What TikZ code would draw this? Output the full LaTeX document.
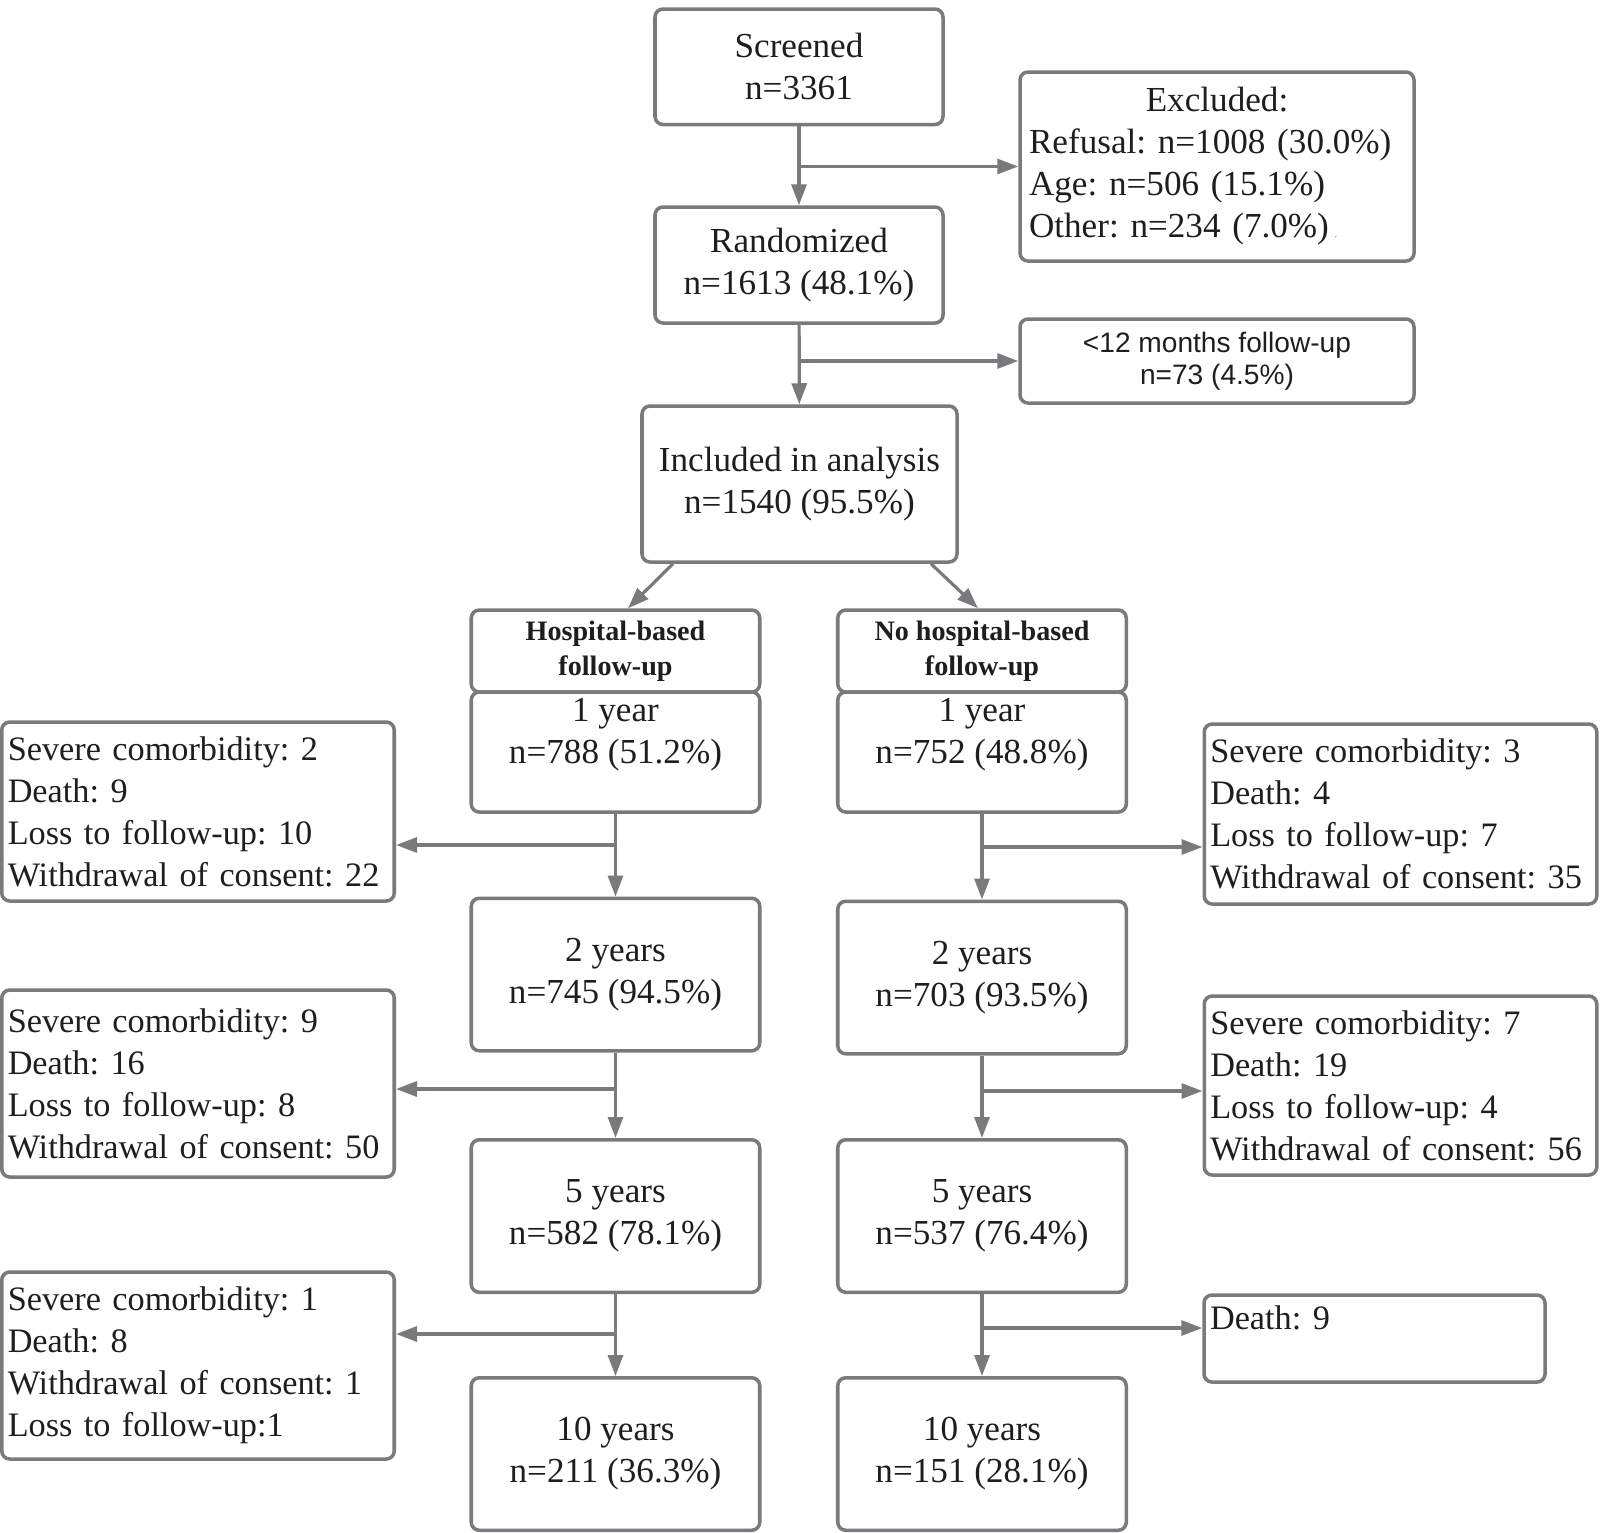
\documentclass[tikz,border=0pt]{standalone}
\usepackage{fontspec}
\setmainfont{Liberation Serif}
\newfontfamily\sansfont{Liberation Sans}
\usetikzlibrary{arrows.meta,positioning,calc}
\definecolor{linegray}{RGB}{122,122,126}
\definecolor{textdark}{RGB}{30,30,30}
\frenchspacing
\tikzset{
  box/.style={draw=linegray, line width=2pt, rounded corners=0.16cm, align=center,
    inner sep=0pt, text=textdark, font=\fontsize{20}{23.9}\selectfont\frenchspacing},
  side box/.style={box, align=left, inner xsep=0.12cm, text width=7.61cm,
    minimum width=7.85cm, font=\fontsize{19.5}{23.9}\selectfont\frenchspacing},
  head box/.style={box, font=\fontsize{16}{19.9}\selectfont\bfseries,
    minimum width=5.77cm, minimum height=1.64cm},
  year box/.style={box, minimum width=5.77cm, minimum height=3.05cm},
  arr/.style={draw=linegray, line width=1.8pt, -{Triangle[length=0.42cm,width=0.3cm]}},
}
\begin{document}
\begin{tikzpicture}
\useasboundingbox (0,0) rectangle (32,-30.64);

% top part
\node[box, minimum width=5.76cm, minimum height=2.31cm] (screened) at (15.98,-1.335) {Screened\\n=3361};
\node[box, align=left, inner xsep=0.18cm, text width=7.52cm, minimum height=3.78cm] (excluded) at (24.34,-3.33)
  {\makebox[7.52cm]{Excluded:}\\Refusal: n=1008 (30.0\%)\\Age: n=506 (15.1\%)\\Other: n=234 (7.0\%)\,{\tiny .}};
\node[box, minimum width=5.76cm, minimum height=2.32cm] (randomized) at (15.98,-5.30) {Randomized\\n=1613 (48.1\%)};
\node[box, font=\sansfont\fontsize{16}{18.2}\selectfont, minimum width=7.88cm, minimum height=1.68cm] (lessyr) at (24.34,-7.22)
  {<12 months follow-up\\n=73 (4.5\%)};
\node[box, minimum width=6.30cm, minimum height=3.12cm] (included) at (15.99,-9.68) {Included in analysis\\n=1540 (95.5\%)};

% hospital-based column
\node[head box] (hosp) at (12.31,-13.02) {Hospital-based\\follow-up};
\node[box, minimum width=5.77cm, minimum height=2.40cm, below=-2pt of hosp] (hosp1) {1 year\\n=788 (51.2\%)\\\mbox{}};
\node[year box] (hosp2) at (12.31,-19.49) {2 years\\n=745 (94.5\%)};
\node[year box] (hosp5) at (12.31,-24.32) {5 years\\n=582 (78.1\%)};
\node[year box] (hosp10) at (12.31,-29.08) {10 years\\n=211 (36.3\%)};

% no hospital-based column
\node[head box] (nohosp) at (19.64,-13.02) {No hospital-based\\follow-up};
\node[box, minimum width=5.77cm, minimum height=2.40cm, below=-2pt of nohosp] (nohosp1) {1 year\\n=752 (48.8\%)\\\mbox{}};
\node[year box] (nohosp2) at (19.64,-19.55) {2 years\\n=703 (93.5\%)};
\node[year box] (nohosp5) at (19.64,-24.32) {5 years\\n=537 (76.4\%)};
\node[year box] (nohosp10) at (19.64,-29.08) {10 years\\n=151 (28.1\%)};

% drop-outs
\node[side box, minimum height=3.58cm] (L1) at (3.96,-16.23)
  {Severe comorbidity: 2\\Death: 9\\Loss to follow-up: 10\\Withdrawal of consent: 22};
\node[side box, minimum height=3.74cm] (L2) at (3.96,-21.67)
  {Severe comorbidity: 9\\Death: 16\\Loss to follow-up: 8\\Withdrawal of consent: 50};
\node[side box, minimum height=3.74cm] (L3) at (3.96,-27.31)
  {Severe comorbidity: 1\\Death: 8\\Withdrawal of consent: 1\\Loss to follow-up:1};
\node[side box, minimum height=3.60cm] (R1) at (28.01,-16.28)
  {Severe comorbidity: 3\\Death: 4\\Loss to follow-up: 7\\Withdrawal of consent: 35};
\node[side box, minimum height=3.58cm] (R2) at (28.01,-21.71)
  {Severe comorbidity: 7\\Death: 19\\Loss to follow-up: 4\\Withdrawal of consent: 56};
\node[side box, text width=6.58cm, minimum width=6.82cm, minimum height=1.74cm] (R3) at (27.49,-26.77)
  {Death: 9\\\mbox{}};

% connectors
\draw[arr] (screened) -- (randomized);
\draw[arr] (screened.south |- excluded.west) -- (excluded.west);
\draw[arr] (randomized) -- (included);
\draw[arr] (randomized.south |- lessyr.west) -- (lessyr.west);
\draw[arr] ($(included.south)+(-2.53,0)$) -- ($(hosp.north)+(0.25,0)$);
\draw[arr] ($(included.south)+(2.63,0)$) -- ($(nohosp.north)+(-0.08,0)$);
\foreach \a/\b/\y/\s/\e in {hosp1/hosp2/-16.90/L1/east, hosp2/hosp5/-21.78/L2/east,
    hosp5/hosp10/-26.68/L3/east, nohosp1/nohosp2/-16.94/R1/west,
    nohosp2/nohosp5/-21.82/R2/west, nohosp5/nohosp10/-26.56/R3/west}{
  \draw[arr] (\a) -- (\b);
  \coordinate (j) at (\a.south |- 0,\y);
  \draw[arr] (j) -- (j -| \s.\e);
}
\end{tikzpicture}
\end{document}
